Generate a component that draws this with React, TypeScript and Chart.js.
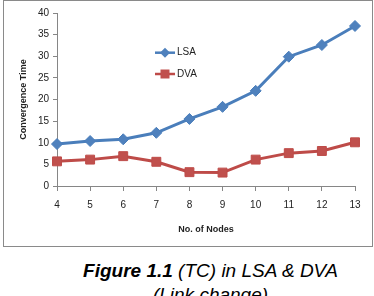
import React, { useEffect, useRef } from "react";
import { Chart, registerables } from "chart.js";

Chart.register(...registerables);

const nodes = ["4", "5", "6", "7", "8", "9", "10", "11", "12", "13"];
const lsaValues = [9.7, 10.4, 10.8, 12.3, 15.5, 18.3, 22.0, 29.9, 32.6, 37.0];
const dvaValues = [5.7, 6.1, 6.9, 5.6, 3.2, 3.1, 6.1, 7.6, 8.1, 10.1];
const yTicks = [0, 5, 10, 15, 20, 25, 30, 35, 40];

const AXIS = "#868686";
const FONT = "'Liberation Sans', Arial, sans-serif";

const legendPlugin = {
  id: "innerLegend",
  afterDatasetsDraw(chart: any) {
    const ctx = chart.ctx;
    const rows = [51.7, 73];
    chart.data.datasets.forEach((ds: any, i: number) => {
      const y = rows[i];
      const x0 = 151;
      const x1 = 171;
      const xm = 161;
      ctx.save();
      ctx.strokeStyle = ds.borderColor;
      ctx.lineWidth = 2.5;
      ctx.beginPath();
      ctx.moveTo(x0, y);
      ctx.lineTo(x1, y);
      ctx.stroke();
      ctx.fillStyle = ds.pointBackgroundColor;
      ctx.beginPath();
      if (ds.pointStyle === "rectRot") {
        const r = 5;
        ctx.moveTo(xm, y - r);
        ctx.lineTo(xm + r, y);
        ctx.lineTo(xm, y + r);
        ctx.lineTo(xm - r, y);
        ctx.closePath();
      } else {
        const s = 4.5;
        ctx.rect(xm - s, y - s, 2 * s, 2 * s);
      }
      ctx.fill();
      ctx.fillStyle = "#222";
      ctx.font = `10px ${FONT}`;
      ctx.textBaseline = "middle";
      ctx.textAlign = "left";
      ctx.fillText(ds.label, 173, y);
      ctx.restore();
    });
  },
};

export default function App() {
  const ref = useRef<HTMLCanvasElement | null>(null);

  useEffect(() => {
    document.body.style.margin = "0";
    const canvas = ref.current;
    if (!canvas) return;
    const chart = new Chart(canvas, {
      type: "line",
      data: {
        labels: nodes,
        datasets: [
          {
            label: "LSA",
            data: lsaValues,
            borderColor: "#4A7EBB",
            backgroundColor: "#4F81BD",
            pointBackgroundColor: "#4F81BD",
            pointBorderColor: "#4A7EBB",
            pointBorderWidth: 1,
            pointStyle: "rectRot",
            pointRadius: 5.5,
            borderWidth: 3,
            tension: 0,
          },
          {
            label: "DVA",
            data: dvaValues,
            borderColor: "#BE4B48",
            backgroundColor: "#C0504D",
            pointBackgroundColor: "#C0504D",
            pointBorderColor: "#BE4B48",
            pointBorderWidth: 1,
            pointStyle: "rect",
            pointRadius: 6.3,
            borderWidth: 3,
            tension: 0,
          },
        ],
      },
      options: {
        animation: false,
        responsive: false,
        maintainAspectRatio: false,
        layout: { padding: { top: 12, right: 17, left: 0, bottom: 11 } },
        plugins: {
          legend: { display: false },
          tooltip: { enabled: false },
        },
        scales: {
          x: {
            type: "category",
            offset: false,
            afterFit: (s: any) => {
              s.height = 49;
            },
            grid: {
              display: true,
              drawOnChartArea: false,
              drawTicks: true,
              tickLength: 5,
              color: AXIS,
            },
            border: { color: AXIS, width: 1 },
            ticks: {
              color: "#222",
              font: { family: FONT, size: 10 },
              padding: 8,
              maxRotation: 0,
            },
            title: {
              display: true,
              text: "No. of Nodes",
              color: "#222",
              font: { family: FONT, size: 9, weight: "bold" },
              padding: { top: 6, bottom: 0 },
            },
          },
          y: {
            min: 0,
            max: 40,
            afterFit: (s: any) => {
              s.width = 53;
            },
            afterBuildTicks: (s: any) => {
              s.ticks = yTicks.map((v) => ({ value: v }));
            },
            grid: {
              display: true,
              drawOnChartArea: false,
              drawTicks: true,
              tickLength: 4,
              color: AXIS,
            },
            border: { color: AXIS, width: 1 },
            ticks: {
              color: "#222",
              font: { family: FONT, size: 10 },
              padding: 4,
            },
            title: {
              display: true,
              text: "Convergence Time",
              color: "#222",
              font: { family: FONT, size: 9, weight: "bold" },
              padding: { top: 14, bottom: 0 },
            },
          },
        },
      },
      plugins: [legendPlugin],
    });
    return () => chart.destroy();
  }, []);

  return (
    <div
      style={{
        position: "relative",
        width: 374,
        height: 296,
        overflow: "hidden",
        background: "#fff",
      }}
    >
      <div
        style={{
          position: "absolute",
          left: 3,
          top: 0,
          width: 368,
          height: 245,
          border: "1px solid #8a8a8a",
        }}
      >
        <canvas ref={ref} width={368} height={245} style={{ display: "block" }} />
      </div>
      <div
        style={{
          position: "absolute",
          left: 10,
          top: 259,
          width: 401,
          textAlign: "center",
          fontFamily: FONT,
          fontSize: 19,
          lineHeight: "24px",
          fontStyle: "italic",
          color: "#000",
          whiteSpace: "nowrap",
        }}
      >
        <div>
          <b>Figure 1.1</b> (TC) in LSA &amp; DVA
        </div>
        <div>(Link change)</div>
      </div>
    </div>
  );
}
